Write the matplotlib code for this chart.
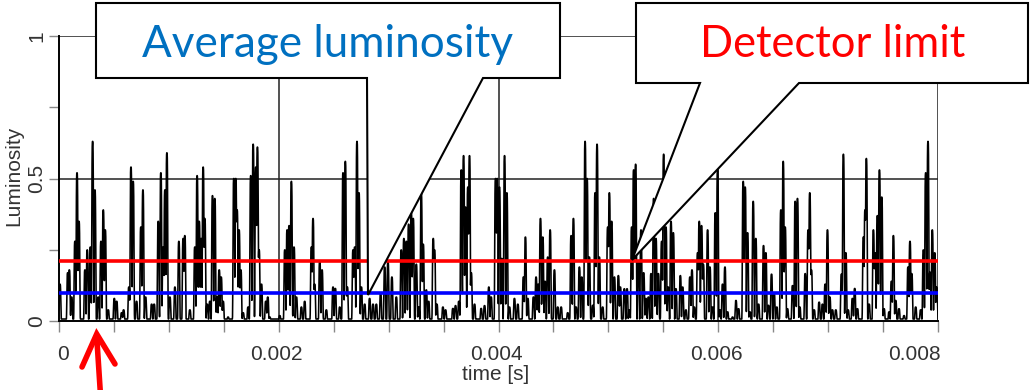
import numpy as np
import matplotlib
matplotlib.use("Agg")
import matplotlib.pyplot as plt
from matplotlib.patches import Polygon
from matplotlib.lines import Line2D

# ---------------- data ----------------
peak_time_ms = [
    0.009, 0.079, 0.094, 0.115, 0.145, 0.164, 0.182, 0.236, 0.257, 0.285,
    0.306, 0.327, 0.357, 0.382, 0.403, 0.421, 0.448, 0.503, 0.525, 0.570,
    0.588, 0.636, 0.655, 0.675, 0.706, 0.745, 0.764, 0.788, 0.843, 0.866,
    0.903, 0.927, 0.948, 0.964, 0.982, 1.009, 1.055, 1.091, 1.130, 1.145,
    1.191, 1.236, 1.257, 1.276, 1.294, 1.312, 1.327, 1.349, 1.373, 1.397,
    1.418, 1.439, 1.458, 1.476, 1.494, 1.539, 1.591, 1.609, 1.621, 1.639,
    1.655, 1.676, 1.721, 1.745, 1.767, 1.791, 1.806, 1.821, 1.843, 1.882,
    1.900, 1.918, 2.009, 2.055, 2.076, 2.094, 2.115, 2.139, 2.161, 2.206,
    2.236, 2.297, 2.312, 2.327, 2.373, 2.394, 2.433, 2.494, 2.515, 2.555,
    2.585, 2.606, 2.624, 2.676, 2.691, 2.712, 2.730, 2.752, 2.782, 2.827,
    2.858, 2.888, 2.927, 2.964, 2.994, 3.030, 3.070, 3.115, 3.139, 3.161,
    3.182, 3.206, 3.224, 3.252, 3.273, 3.297, 3.315, 3.343, 3.364, 3.406,
    3.418, 3.439, 3.494, 3.518, 3.585, 3.609, 3.639, 3.661, 3.682, 3.700,
    3.721, 3.736, 3.752, 3.782, 3.842, 3.873, 3.912, 3.933, 3.973, 3.988,
    4.009, 4.030, 4.055, 4.076, 4.100, 4.145, 4.176, 4.227, 4.245, 4.267,
    4.318, 4.342, 4.361, 4.382, 4.403, 4.424, 4.448, 4.470, 4.509, 4.539,
    4.570, 4.630, 4.661, 4.682, 4.706, 4.736, 4.758, 4.788, 4.806, 4.827,
    4.858, 4.879, 4.897, 4.918, 4.948, 4.994, 5.009, 5.030, 5.055, 5.091,
    5.109, 5.145, 5.170, 5.191, 5.212, 5.230, 5.248, 5.273, 5.297, 5.321,
    5.342, 5.364, 5.388, 5.412, 5.433, 5.455, 5.485, 5.503, 5.524, 5.545,
    5.570, 5.591, 5.615, 5.655, 5.676, 5.706, 5.742, 5.761, 5.782, 5.812,
    5.827, 5.848, 5.864, 5.903, 5.924, 5.948, 5.973, 5.994, 6.015, 6.039,
    6.061, 6.085, 6.130, 6.161, 6.185, 6.227, 6.245, 6.267, 6.288, 6.318,
    6.342, 6.367, 6.412, 6.433, 6.457, 6.485, 6.509, 6.533, 6.570, 6.591,
    6.609, 6.630, 6.676, 6.700, 6.721, 6.742, 6.791, 6.818, 6.833, 6.848,
    6.873, 6.918, 6.948, 6.973, 6.994, 7.015, 7.039, 7.070, 7.121, 7.139,
    7.161, 7.182, 7.221, 7.242, 7.267, 7.321, 7.336, 7.348, 7.373, 7.412,
    7.427, 7.448, 7.467, 7.488, 7.509, 7.555, 7.576, 7.594, 7.615, 7.645,
    7.691, 7.727, 7.745, 7.761, 7.797, 7.842, 7.867, 7.888, 7.909, 7.927,
    7.948, 7.970, 7.988,
]
peak_height = [
    0.13, 0.17, 0.18, 0.085, 0.28, 0.52, 0.35, 0.18, 0.25, 0.26,
    0.63, 0.46, 0.085, 0.28, 0.39, 0.32, 0.04, 0.08, 0.07, 0.03,
    0.04, 0.12, 0.54, 0.49, 0.07, 0.33, 0.46, 0.085, 0.06, 0.06,
    0.35, 0.52, 0.26, 0.46, 0.59, 0.085, 0.12, 0.28, 0.29, 0.30,
    0.04, 0.26, 0.51, 0.35, 0.29, 0.54, 0.36, 0.06, 0.07, 0.44,
    0.43, 0.085, 0.18, 0.155, 0.07, 0.015, 0.50, 0.50, 0.39, 0.32,
    0.18, 0.03, 0.05, 0.51, 0.62, 0.54, 0.61, 0.25, 0.13, 0.07,
    0.085, 0.015, 0.02, 0.25, 0.32, 0.335, 0.49, 0.26, 0.085, 0.05,
    0.07, 0.26, 0.36, 0.13, 0.21, 0.18, 0.04, 0.12, 0.115, 0.05,
    0.52, 0.56, 0.12, 0.25, 0.26, 0.63, 0.45, 0.12, 0.06, 0.08,
    0.06, 0.06, 0.10, 0.19, 0.21, 0.155, 0.085, 0.25, 0.29, 0.28,
    0.34, 0.38, 0.36, 0.20, 0.05, 0.45, 0.27, 0.11, 0.07, 0.29,
    0.25, 0.06, 0.05, 0.04, 0.045, 0.055, 0.07, 0.53, 0.58, 0.40,
    0.47, 0.58, 0.17, 0.06, 0.045, 0.055, 0.12, 0.085, 0.50, 0.50,
    0.47, 0.22, 0.58, 0.45, 0.05, 0.08, 0.06, 0.155, 0.295, 0.08,
    0.085, 0.155, 0.13, 0.36, 0.295, 0.14, 0.225, 0.32, 0.18, 0.05,
    0.05, 0.03, 0.30, 0.36, 0.05, 0.19, 0.155, 0.63, 0.50, 0.225,
    0.056, 0.45, 0.62, 0.225, 0.05, 0.33, 0.45, 0.35, 0.155, 0.16,
    0.12, 0.114, 0.114, 0.04, 0.33, 0.53, 0.55, 0.21, 0.32, 0.17,
    0.08, 0.085, 0.167, 0.43, 0.29, 0.167, 0.28, 0.585, 0.33, 0.12,
    0.35, 0.31, 0.114, 0.16, 0.12, 0.04, 0.155, 0.18, 0.05, 0.24,
    0.35, 0.335, 0.20, 0.32, 0.19, 0.05, 0.38, 0.53, 0.04, 0.13,
    0.19, 0.033, 0.015, 0.073, 0.044, 0.49, 0.47, 0.31, 0.033, 0.42,
    0.29, 0.06, 0.265, 0.24, 0.056, 0.165, 0.097, 0.05, 0.39, 0.56,
    0.33, 0.044, 0.125, 0.42, 0.43, 0.05, 0.167, 0.32, 0.45, 0.18,
    0.04, 0.067, 0.06, 0.13, 0.32, 0.085, 0.04, 0.04, 0.165, 0.585,
    0.24, 0.04, 0.08, 0.115, 0.044, 0.295, 0.39, 0.57, 0.06, 0.32,
    0.24, 0.37, 0.53, 0.435, 0.044, 0.033, 0.14, 0.30, 0.073, 0.044,
    0.02, 0.19, 0.28, 0.167, 0.05, 0.04, 0.25, 0.52, 0.63, 0.172,
    0.32, 0.24, 0.12,
]
detector_limit = 0.21
average_luminosity = 0.10
x_ticks = [0, 0.002, 0.004, 0.006, 0.008]
x_tick_labels = ["0", "0.002", "0.004", "0.006", "0.008"]
x_minor_ticks = [0.0005 * i for i in range(17)]
y_ticks = [0, 0.25, 0.5, 0.75, 1]
y_tick_labels = ["0", "", "0.5", "", "1"]
x_label = "time [s]"
y_label = "Luminosity"
callout_avg = "Average luminosity"
callout_det = "Detector limit"

# ---------------- figure ----------------
W, H = 1030, 390
fig = plt.figure(figsize=(W / 100, H / 100), dpi=100)
fig.patch.set_facecolor("white")

def fx(px):
    return px / W

def fy(py):
    return 1 - py / H

ax = fig.add_axes([fx(59), fy(321.3), (938 - 59) / W, 285.6 / H])
ax.set_xlim(0, 0.008)
ax.set_ylim(0, 1)

# waveform built from read peaks (each peak as a narrow pulse)
t_peaks = np.array(peak_time_ms) / 1000.0
h_peaks = np.array(peak_height)
t = np.linspace(0, 0.008, 5001)
px_s = 0.008 / 879.0
width = 0.95 * px_s
sig = np.full_like(t, 0.008)
for tp, hp in zip(t_peaks, h_peaks):
    sig = np.maximum(sig, hp * np.exp(-np.abs((t - tp) / width) ** 4))

grid_col = "#222222"
for gx in [0.002, 0.004, 0.006, 0.008]:
    ax.axvline(gx, color=grid_col, lw=1.1, zorder=1)
for gy in [0.5, 1.0]:
    ax.axhline(gy, color=grid_col, lw=1.1, zorder=1)

ax.plot(t, sig, color="black", lw=1.15, zorder=2)
ax.axhline(detector_limit, color="#FF0000", lw=2.6, zorder=3)
ax.axhline(average_luminosity, color="#0000FF", lw=2.6, zorder=3)

for s in ["top", "right"]:
    ax.spines[s].set_visible(False)
for s in ["left", "bottom"]:
    ax.spines[s].set_color("black")
    ax.spines[s].set_linewidth(1.4)

tick_font = dict(family="Liberation Sans", size=15, color="#333333")
ax.set_xticks(x_minor_ticks)
ax.set_xticklabels([""] * len(x_minor_ticks))
for xt, lab in zip(x_ticks, x_tick_labels):
    ha = "right" if lab == x_tick_labels[-1] else "center"
    dx = 2 if lab == x_tick_labels[-1] else (3 if lab == "0" else -1.5)
    ax.annotate(lab, xy=(xt, 0), xycoords="data", xytext=(dx, -17),
                textcoords="offset points", ha=ha, va="top", **tick_font)
ax.set_yticks(y_ticks)
ax.set_yticklabels(y_tick_labels, rotation=90, va="center", **tick_font)
ax.tick_params(axis="x", length=8, width=1, color="#888888", direction="out")
ax.tick_params(axis="y", length=7, width=1, color="#888888", direction="out", pad=2)

fig.text(fx(496), fy(374), x_label, ha="center", va="center", **tick_font)
fig.text(fx(14), fy(176), y_label, ha="center", va="center", rotation=90, **tick_font)

# ---------------- callouts ----------------
def callout(pts):
    poly = Polygon([(fx(a), fy(b)) for a, b in pts], closed=True,
                   transform=fig.transFigure, facecolor="white",
                   edgecolor="black", lw=1.5, zorder=5, joinstyle="miter")
    fig.add_artist(poly)

callout([(96, 3), (560, 3), (560, 78), (483, 78), (368, 295), (367, 78), (96, 78)])
callout([(636, 3), (1028, 3), (1028, 83), (799, 83), (632, 260), (700, 83), (636, 83)])

txt1 = fig.text(fx(327), fy(57), callout_avg, ha="center", va="baseline",
                color="#0070C0", family="Lato", size=30, zorder=6)
txt2 = fig.text(fx(832.5), fy(57), callout_det, ha="center", va="baseline",
                color="#FF0000", family="Lato", size=30, zorder=6)
fig.canvas.draw()
r = fig.canvas.get_renderer()
for tx, target in [(txt1, 370), (txt2, 265)]:
    wpx = tx.get_window_extent(r).width
    tx.set_fontsize(30 * target / wpx)

# ---------------- red arrow ----------------
arrow_col = "#FF0000"
fig.add_artist(Line2D([fx(100.5), fx(96.8)], [fy(395), fy(338)], color=arrow_col,
                      lw=4.0, transform=fig.transFigure, zorder=6, solid_capstyle="butt"))
fig.add_artist(Line2D([fx(82), fx(96.7), fx(115)], [fy(367), fy(334), fy(364)],
                      color=arrow_col, lw=4.0, transform=fig.transFigure, zorder=6,
                      solid_joinstyle="miter", solid_capstyle="round"))

fig.savefig("out.png", dpi=100, facecolor="white")
